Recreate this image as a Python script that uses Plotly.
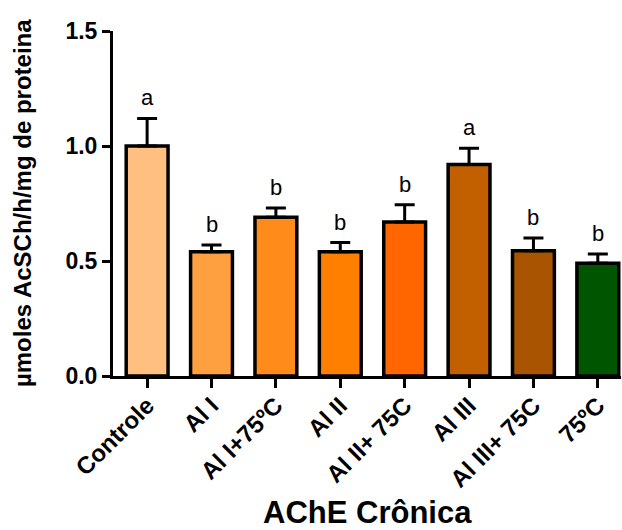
import plotly.graph_objects as go

# Acetylcholinesterase activity, chronic exposure groups
groups = ["Controle", "Al I", "Al I+75ºC", "Al II", "Al II+ 75C",
          "Al III", "Al III+ 75C", "75ºC"]
means = [1.00, 0.54, 0.69, 0.54, 0.67, 0.92, 0.545, 0.49]
sem = [0.12, 0.03, 0.04, 0.04, 0.075, 0.07, 0.055, 0.04]
letters = ["a", "b", "b", "b", "b", "a", "b", "b"]
colors = ["#FFBF80", "#FFA040", "#FF8C1A", "#FF8000",
          "#FF6600", "#C26000", "#A85400", "#005500"]
y_ticks = [0.0, 0.5, 1.0, 1.5]

FONT = "Liberation Sans, Arial, sans-serif"
xpos = list(range(len(groups)))

fig = go.Figure()
fig.add_trace(go.Bar(
    x=xpos, y=means, width=0.65,
    marker=dict(color=colors, line=dict(color="black", width=3.5)),
    error_y=dict(type="data", symmetric=False, array=sem,
                 arrayminus=[0] * len(sem), color="black",
                 thickness=3, width=10),
    showlegend=False,
))

# significance letters above each error bar
for i, (m, s, lab) in enumerate(zip(means, sem, letters)):
    fig.add_annotation(x=i, y=m + s, text=lab, showarrow=False,
                       yanchor="bottom", yshift=6,
                       font=dict(family=FONT, size=22, color="black"))

# axis titles
fig.add_annotation(xref="paper", yref="paper", x=-0.178, y=0.5,
                   text="µmoles AcSCh/h/mg de proteina", textangle=-90,
                   showarrow=False, xanchor="center", yanchor="middle",
                   font=dict(family=FONT, size=24, color="black",
                             weight="bold"))
fig.add_annotation(xref="paper", yref="paper", x=0.5, y=-0.396,
                   text="AChE Crônica", showarrow=False,
                   xanchor="center", yanchor="middle",
                   font=dict(family=FONT, size=31, color="black",
                             weight="bold"))

fig.update_layout(
    width=622, height=530,
    margin=dict(l=113, r=1, t=31, b=154),
    paper_bgcolor="white", plot_bgcolor="white",
    xaxis=dict(
        range=[-0.53, 7.36], tickmode="array", tickvals=xpos,
        ticktext=groups, tickangle=-45, ticklabelstandoff=-6,
        showline=True, linecolor="black", linewidth=3,
        ticks="outside", ticklen=9, tickwidth=3, tickcolor="black",
        showgrid=False, zeroline=False,
        tickfont=dict(family=FONT, size=24, color="black", weight="bold"),
    ),
    yaxis=dict(
        range=[0, 1.5], tickmode="array", tickvals=y_ticks,
        tickformat=".1f",
        showline=True, linecolor="black", linewidth=3,
        ticks="outside", ticklen=8, tickwidth=3, tickcolor="black",
        showgrid=False, zeroline=False,
        tickfont=dict(family=FONT, size=23, color="black", weight="bold"),
    ),
)

fig.write_html("out.html")
